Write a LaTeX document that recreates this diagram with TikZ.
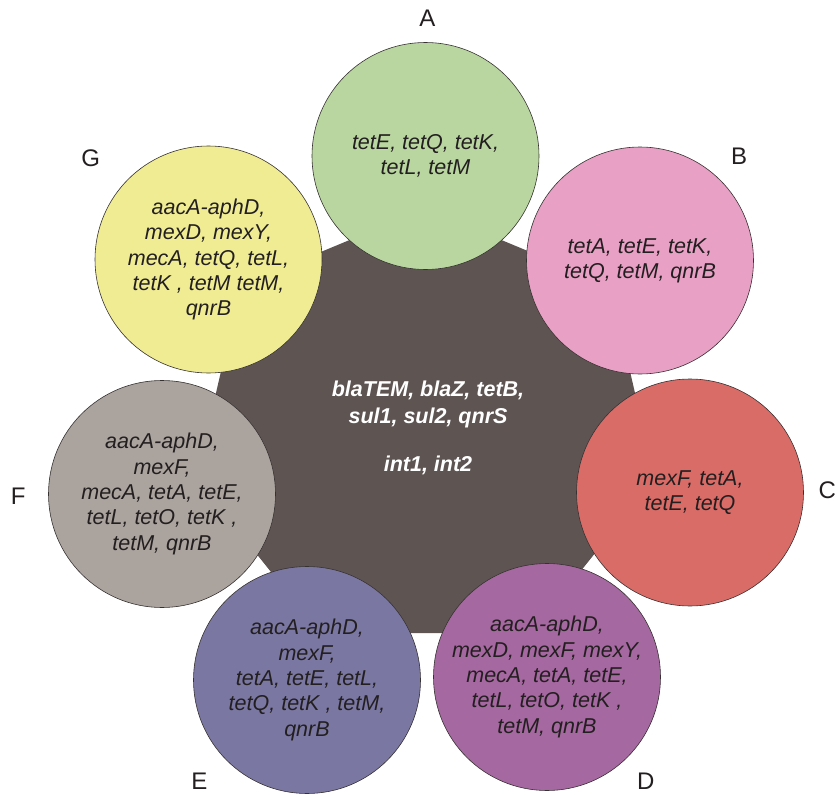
\documentclass[tikz,border=0pt]{standalone}
\usepackage{fontspec}
\setmainfont{Liberation Sans}
\definecolor{heptc}{RGB}{94,85,83}
\definecolor{cA}{RGB}{185,214,160}
\definecolor{cB}{RGB}{232,160,196}
\definecolor{cC}{RGB}{218,108,104}
\definecolor{cD}{RGB}{165,104,160}
\definecolor{cE}{RGB}{122,119,162}
\definecolor{cF}{RGB}{170,163,158}
\definecolor{cG}{RGB}{240,236,148}
\definecolor{txt}{RGB}{35,31,32}
\definecolor{rim}{RGB}{55,50,50}
\tikzset{
  genecircle/.style={circle, draw=rim, line width=0.6pt, minimum size=227pt, inner sep=0pt},
  genetext/.style={align=center, text=txt, font=\fontsize{21.5}{25.3}\selectfont\itshape, inner sep=0pt},
  coretext/.style={align=center, text=white, font=\fontsize{21.5}{26.7}\selectfont\bfseries\itshape, inner sep=0pt},
  grouplabel/.style={text=txt, font=\fontsize{24}{28}\selectfont, inner sep=0pt}
}
\begin{document}
\begin{tikzpicture}[x=1pt,y=-1pt]
\useasboundingbox (0,0) rectangle (839,795);
% central heptagon
\coordinate (V0) at (425.5,208.5);
\coordinate (V1) at (610.2,285.2);
\coordinate (V2) at (654.7,478.6);
\coordinate (V3) at (531.2,633);
\coordinate (V4) at (319.8,633);
\coordinate (V5) at (196.3,478.6);
\coordinate (V6) at (240.8,285.2);
\fill[heptc] (V0) -- (V1) -- (V2) -- (V3) -- (V4) -- (V5) -- (V6) -- cycle;
\node[coretext] (core) at (428,428) {blaTEM, blaZ, tetB,\\ sul1, sul2, qnrS\\[21pt] int1, int2};
% circles
\node[genecircle, fill=cA] (A) at (425.5,156) {};
\node[genecircle, fill=cB] (B) at (640,260.5) {};
\node[genecircle, fill=cC] (C) at (690,492.5) {};
\node[genecircle, fill=cD] (D) at (547,677) {};
\node[genecircle, fill=cE] (E) at (307,680) {};
\node[genecircle, fill=cF] (F) at (162,494) {};
\node[genecircle, fill=cG] (G) at (208.5,259.5) {};
% circle texts
\node[genetext] (At) at (A) {tetE, tetQ, tetK,\\ tetL, tetM};
\node[genetext] (Bt) at (B) {tetA, tetE, tetK,\\ tetQ, tetM, qnrB};
\node[genetext] (Ct) at (C) {mexF, tetA,\\ tetE, tetQ};
\node[genetext] (Dt) at (D) {aacA-aphD,\\ mexD, mexF, mexY,\\ mecA, tetA, tetE,\\ tetL, tetO, tetK ,\\ tetM, qnrB};
\node[genetext] (Et) at (E) {aacA-aphD,\\ mexF,\\ tetA, tetE, tetL,\\ tetQ, tetK , tetM,\\ qnrB};
\node[genetext] (Ft) at (F) {aacA-aphD,\\ mexF,\\ mecA, tetA, tetE,\\ tetL, tetO, tetK ,\\ tetM, qnrB};
\node[genetext] (Gt) at (G) {aacA-aphD,\\ mexD, mexY,\\ mecA, tetQ, tetL,\\ tetK , tetM tetM,\\ qnrB};
% labels
\node[grouplabel] (LA) at (427.3,18.3) {A};
\node[grouplabel] (LB) at (739,156.7) {B};
\node[grouplabel] (LC) at (827.3,490) {C};
\node[grouplabel] (LD) at (645.7,781.7) {D};
\node[grouplabel] (LE) at (199.3,781.7) {E};
\node[grouplabel] (LF) at (18.3,496.7) {F};
\node[grouplabel] (LG) at (90.7,158.3) {G};
\end{tikzpicture}
\end{document}
